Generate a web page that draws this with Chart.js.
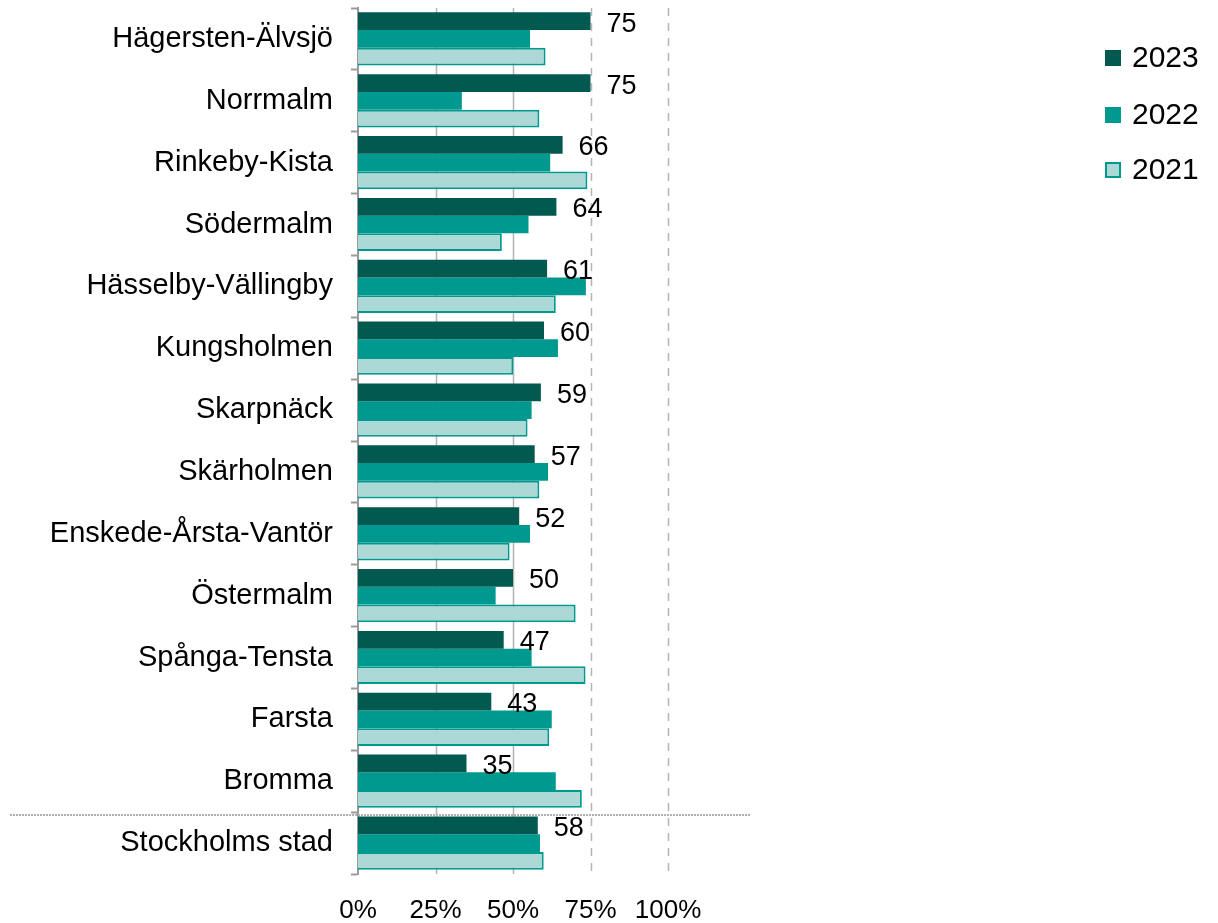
<!DOCTYPE html>
<html>
<head>
<meta charset="utf-8">
<script src="https://cdn.jsdelivr.net/npm/chart.js@4.4.1/dist/chart.umd.min.js"></script>
<style>
  html, body { margin: 0; padding: 0; background: #fff; }
  #wrap { position: relative; width: 1218px; height: 923px; }
</style>
</head>
<body>
<div id="wrap"><canvas id="chart" width="1218" height="923"></canvas></div>
<script>
// Districts, sorted by 2023 result; the city total comes last
const districts = [
  'Hägersten-Älvsjö', 'Norrmalm', 'Rinkeby-Kista', 'Södermalm',
  'Hässelby-Vällingby', 'Kungsholmen', 'Skarpnäck', 'Skärholmen',
  'Enskede-Årsta-Vantör', 'Östermalm', 'Spånga-Tensta', 'Farsta',
  'Bromma', 'Stockholms stad'
];

const values2023 = [75, 75, 66, 64, 61, 60, 59, 57, 52, 50, 47, 43, 35, 58];
const values2022 = [55.5, 33.5, 62, 55, 73.5, 64.5, 56, 61.3, 55.5, 44.4, 56, 62.5, 63.8, 58.7];
const values2021 = [60.5, 58.5, 74, 46.4, 63.8, 50.1, 54.7, 58.5, 48.9, 70.2, 73.4, 61.7, 72.2, 59.9];

const seriesLabels = ['2023', '2022', '2021'];
const xTicks = [0, 25, 50, 75, 100];

const DARK = '#02594f';
const TEAL = '#00998f';
const LIGHT = '#acd9d6';
const FONT = '"Liberation Sans", Arial, sans-serif';

// Gridlines: solid at 25/50, dashed at 75/100, plus the dotted separator above the city total
const gridPlugin = {
  id: 'customGrid',
  beforeDatasetsDraw(chart) {
    const { ctx, chartArea, scales } = chart;
    ctx.save();
    xTicks.forEach(v => {
      if (v === 0) return;
      const x = Math.round(scales.x.getPixelForValue(v)) + 0.5;
      ctx.beginPath();
      ctx.lineWidth = 1.5;
      ctx.strokeStyle = '#b4b4b4';
      ctx.setLineDash(v >= 75 ? [8, 7] : []);
      ctx.moveTo(x, chartArea.top);
      ctx.lineTo(x, chartArea.bottom);
      ctx.stroke();
    });
    ctx.restore();
  },
  afterDraw(chart) {
    const { ctx, scales } = chart;
    const y = Math.round(scales.y.getPixelForValue(districts.length - 1.5)) + 3;
    ctx.save();
    ctx.beginPath();
    ctx.lineWidth = 2;
    ctx.strokeStyle = '#b0b0b0';
    ctx.setLineDash([2, 1]);
    ctx.moveTo(10, y);
    ctx.lineTo(750, y);
    ctx.stroke();
    ctx.restore();
  }
};

// Value labels after the 2023 bars
const valueLabels = {
  id: 'valueLabels',
  afterDatasetsDraw(chart) {
    const { ctx } = chart;
    const meta = chart.getDatasetMeta(0);
    ctx.save();
    ctx.font = '27px ' + FONT;
    ctx.fillStyle = '#000';
    ctx.textAlign = 'left';
    ctx.textBaseline = 'middle';
    meta.data.forEach((bar, i) => {
      ctx.fillText(String(values2023[i]), bar.x + 16, bar.y + 3);
    });
    ctx.restore();
  }
};

// Legend on the right
const sideLegend = {
  id: 'sideLegend',
  afterDraw(chart) {
    const { ctx } = chart;
    const rows = [58, 115, 170];
    ctx.save();
    ctx.font = '30px ' + FONT;
    ctx.textBaseline = 'middle';
    chart.data.datasets.forEach((ds, i) => {
      const y = rows[i];
      ctx.fillStyle = ds.backgroundColor;
      ctx.fillRect(1105, y - 8, 16, 16);
      if (ds.borderWidth) {
        ctx.strokeStyle = ds.borderColor;
        ctx.lineWidth = 2;
        ctx.strokeRect(1106, y - 7, 14, 14);
      }
      ctx.fillStyle = '#000';
      ctx.fillText(ds.label, 1132, y + 1);
    });
    ctx.restore();
  }
};

new Chart(document.getElementById('chart'), {
  type: 'bar',
  data: {
    labels: districts,
    datasets: [
      { label: seriesLabels[0], data: values2023, backgroundColor: DARK, borderWidth: 0 },
      { label: seriesLabels[1], data: values2022, backgroundColor: TEAL, borderWidth: 0 },
      { label: seriesLabels[2], data: values2021, backgroundColor: LIGHT, borderColor: TEAL, borderWidth: 2 }
    ]
  },
  options: {
    indexAxis: 'y',
    responsive: false,
    animation: false,
    categoryPercentage: 0.86,
    barPercentage: 1.0,
    layout: { padding: { top: 8, right: 472.5, bottom: 0, left: 0 } },
    plugins: {
      legend: { display: false },
      tooltip: { enabled: false }
    },
    scales: {
      x: {
        min: 0,
        max: 125,
        grid: { display: false, drawTicks: false },
        border: { display: false },
        ticks: {
          stepSize: 25,
          padding: 21,
          color: '#000',
          font: { family: FONT, size: 26 },
          callback: v => (xTicks.includes(v) ? v + '%' : '')
        },
        afterFit: scale => {
          scale.height = 49;
          scale.paddingLeft = 0;
          scale.paddingRight = 0;
        }
      },
      y: {
        offset: true,
        grid: {
          display: true,
          offset: true,
          drawOnChartArea: false,
          tickLength: 7,
          tickWidth: 2,
          tickColor: '#9a9a9a'
        },
        border: { display: true, color: '#9a9a9a', width: 2 },
        ticks: {
          padding: 18,
          color: '#000',
          font: { family: FONT, size: 29 }
        },
        afterFit: scale => {
          scale.width = 358;
          scale.paddingTop = 0;
          scale.paddingBottom = 0;
        }
      }
    }
  },
  plugins: [gridPlugin, valueLabels, sideLegend]
});
</script>
</body>
</html>
